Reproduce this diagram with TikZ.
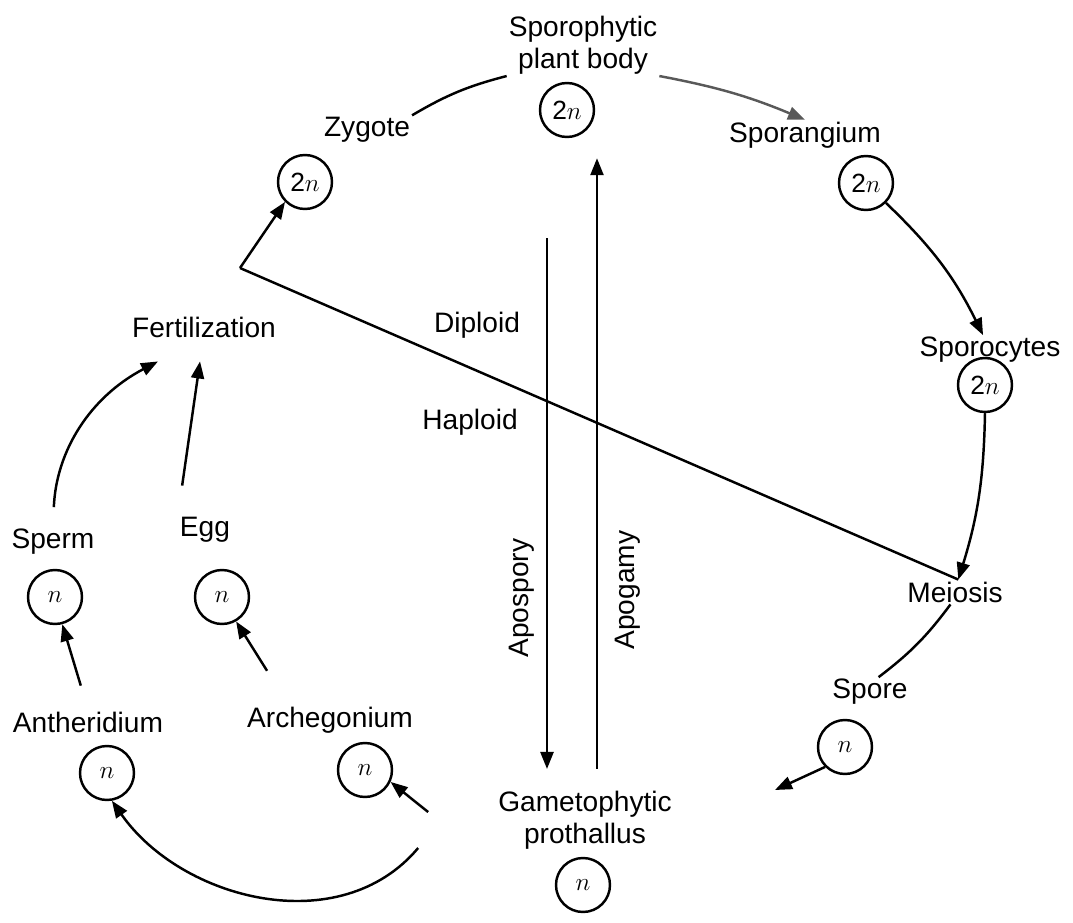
\documentclass[tikz,border=0pt]{standalone}
\usepackage{fontspec}
\setmainfont{Liberation Sans}
\usetikzlibrary{arrows.meta,positioning}

\begin{document}
\begin{tikzpicture}[
    x=0.2mm, y=-0.2mm,
    font=\fontsize{16}{18}\selectfont,
    lb/.style={align=center, inner sep=1pt},
    pl/.style={draw, circle, line width=1.4pt, minimum size=10.8mm, inner sep=0pt, font=\fontsize{15}{17}\selectfont},
    ar/.style={-{Triangle[length=3.4mm,width=2.6mm]}, line width=1.4pt},
    ln/.style={line width=1.4pt}
  ]
    \useasboundingbox (0,0) rectangle (1073,923);

    % diploid half
    \node[lb] (spb) at (583,45) {Sporophytic\\plant body};
    \node[pl] (spbc) at (567,110) {2$n$};
    \node[lb] (zyg) at (367,130) {Zygote};
    \node[pl] (zygc) at (305,182) {2$n$};
    \node[lb] (spg) at (805,135) {Sporangium};
    \node[pl] (spgc) at (866,183) {2$n$};
    \node[lb] (spc) at (990,350) {Sporocytes};
    \node[pl] (spcc) at (985,385) {2$n$};
    \node[lb] (mei) at (955,592) {Meiosis};

    % haploid half
    \node[lb] (spo) at (870,692) {Spore};
    \node[pl] (spoc) at (845,747) {$n$};
    \node[lb] (gam) at (585,820) {Gametophytic\\prothallus};
    \node[pl] (gamc) at (583,885) {$n$};
    \node[lb] (arc) at (330,720) {Archegonium};
    \node[pl] (arcc) at (365,770) {$n$};
    \node[lb] (ant) at (88,722) {Antheridium};
    \node[pl] (antc) at (107,773) {$n$};
    \node[lb] (spm) at (53,542) {Sperm};
    \node[pl] (spmc) at (55,597) {$n$};
    \node[lb] (egg) at (205,530) {Egg};
    \node[pl] (eggc) at (222,597) {$n$};
    \node[lb] (fer) at (204,327) {Fertilization};

    \node[lb] (dip) at (477,325) {Diploid};
    \node[lb] (hap) at (470,422) {Haploid};
    \node[lb, rotate=90] (aps) at (522,598) {Apospory};
    \node[lb, rotate=90] (apg) at (628,590) {Apogamy};

    \coordinate (fz) at (240,268);
    \coordinate (sf) at (775,790);

    % cycle
    \draw[ln] (zyg.north east) to[bend left=8] (spb.south west);
    \draw[ar, black!65] (spb.south east) to[bend left=6] (spg.north);
    \draw[ar] (spgc.south east) to[bend left=10] (spc.115);
    \draw[ar] (spcc.south) to[bend left=8] (mei.75);
    \draw[ln] (mei.75) -- (fz);
    \draw[ar] (fz) -- (zygc.south west);
    \draw[ln] (mei.250) to[bend left=8] (spo.60);
    \draw[ar] (spoc.south west) -- (sf);
    \draw[ar] ([shift={(-68,-8)}]gam.west) -- (arcc.-25);
    \draw[ar] ([shift={(-78,28)}]gam.west) to[out=-130, in=-55] (antc.-80);
    \draw[ar, shorten <=5mm] (ant.north) -- (spmc.-75);
    \draw[ar] ([shift={(22,-34)}]arc.north west) -- (eggc.-60);
    \draw[ar, shorten <=4mm] (spm.north) to[bend left=30] ([shift={(28,22)}]fer.south west);
    \draw[ar, shorten <=6mm] (egg.north west) -- ([shift={(-4,22)}]fer.south);

    % apospory / apogamy
    \draw[ar] ([shift={(-20,100)}]spbc.south) -- ([shift={(-38,-20)}]gam.north);
    \draw[ar] ([shift={(12,-20)}]gam.north) -- ([shift={(30,20)}]spbc.south);
\end{tikzpicture}
\end{document}
